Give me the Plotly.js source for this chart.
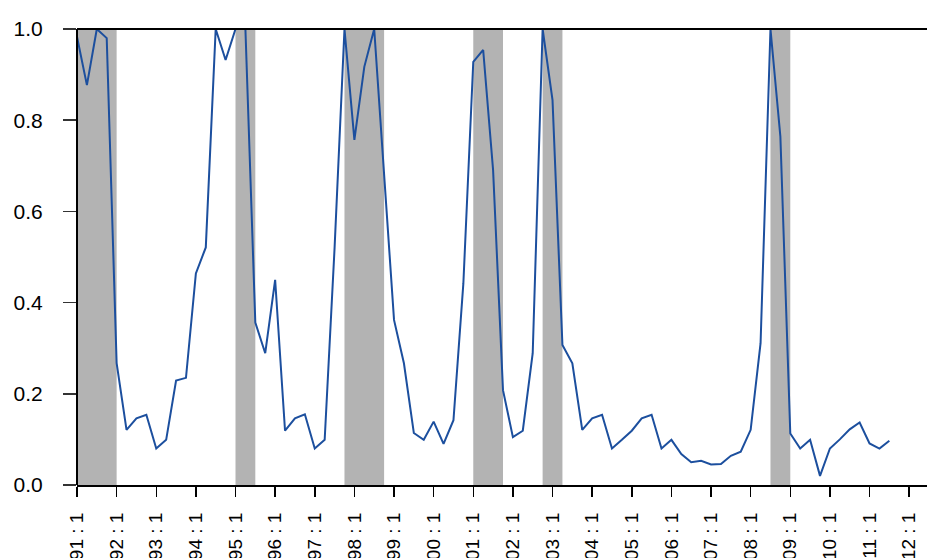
<!DOCTYPE html>
<html>
<head>
<meta charset="utf-8">
<script src="https://cdn.plot.ly/plotly-3.0.1.min.js"></script>
<style>
  html, body { margin: 0; padding: 0; background: #ffffff; }
  #chart { width: 927px; height: 558px; }
</style>
</head>
<body>
<div id="chart"></div>
<script>
// Quarterly series starting 1991:1
var startYear = 1991;
var probValues = [
  0.983, 0.877, 1.000, 0.980, 0.267, 0.121, 0.146, 0.154, 0.080, 0.099,
  0.229, 0.235, 0.464, 0.521, 1.000, 0.932, 1.000, 1.000, 0.356, 0.289,
  0.450, 0.119, 0.146, 0.155, 0.080, 0.099, 0.520, 1.000, 0.757, 0.917,
  1.000, 0.680, 0.362, 0.267, 0.114, 0.099, 0.139, 0.090, 0.142, 0.442,
  0.928, 0.954, 0.691, 0.208, 0.105, 0.119, 0.289, 1.000, 0.844, 0.307,
  0.267, 0.121, 0.146, 0.154, 0.080, 0.099, 0.119, 0.146, 0.154, 0.080,
  0.099, 0.068, 0.050, 0.053, 0.045, 0.046, 0.064, 0.073, 0.121, 0.311,
  1.000, 0.764, 0.113, 0.080, 0.099, 0.020, 0.080, 0.100, 0.122, 0.137,
  0.091, 0.080, 0.097
];
// Shaded periods (decimal year start / end)
var shadeStart = [1991.00, 1995.00, 1997.75, 2001.00, 2002.75, 2008.50];
var shadeEnd   = [1992.00, 1995.50, 1998.75, 2001.75, 2003.25, 2009.00];
// Axis ticks
var xTickYears = [1991,1992,1993,1994,1995,1996,1997,1998,1999,2000,2001,2002,2003,2004,2005,2006,2007,2008,2009,2010,2011,2012];
var xTickText = ["1991 : 1","1992 : 1","1993 : 1","1994 : 1","1995 : 1","1996 : 1","1997 : 1","1998 : 1","1999 : 1","2000 : 1","2001 : 1","2002 : 1","2003 : 1","2004 : 1","2005 : 1","2006 : 1","2007 : 1","2008 : 1","2009 : 1","2010 : 1","2011 : 1","2012 : 1"];
var yTickVals = [0, 0.2, 0.4, 0.6, 0.8, 1.0];
var yTickText = ["0.0", "0.2", "0.4", "0.6", "0.8", "1.0"];

var xDates = probValues.map(function (v, i) { return startYear + i / 4; });

var shapes = [];
for (var k = 0; k < shadeStart.length; k++) {
  shapes.push({
    type: 'rect', xref: 'x', yref: 'y', layer: 'below',
    x0: shadeStart[k], x1: shadeEnd[k], y0: 0, y1: 1,
    fillcolor: '#b3b3b3', line: { width: 0 }
  });
}
// horizontal reference line at 1.0
shapes.push({
  type: 'line', xref: 'paper', yref: 'y', layer: 'above',
  x0: 0, x1: 1, y0: 1, y1: 1,
  line: { color: '#000000', width: 2 }
});
// left axis line spanning tick range only
shapes.push({
  type: 'line', xref: 'paper', yref: 'y', layer: 'above',
  x0: 0, x1: 0, y0: 0, y1: 1,
  line: { color: '#000000', width: 2 }
});

var trace = {
  x: xDates, y: probValues, type: 'scatter', mode: 'lines',
  line: { color: '#1c4f9e', width: 2 },
  hoverinfo: 'skip', showlegend: false
};

var layout = {
  width: 927, height: 558,
  margin: { l: 77, r: 0, t: 5, b: 73, pad: 0 },
  paper_bgcolor: '#ffffff', plot_bgcolor: '#ffffff',
  font: { family: 'Liberation Sans, Arial, sans-serif', color: '#000000' },
  showlegend: false,
  xaxis: {
    range: [1991, 2012.45],
    tickmode: 'array', tickvals: xTickYears, ticktext: xTickText,
    tickangle: -90,
    ticks: 'outside', ticklen: 10, tickwidth: 1.5, tickcolor: '#000000',
    ticklabelstandoff: 8,
    tickfont: { size: 19, color: '#000000' },
    showgrid: false, zeroline: false,
    showline: true, linecolor: '#000000', linewidth: 2
  },
  yaxis: {
    range: [0, 1.0526],
    tickmode: 'array', tickvals: yTickVals, ticktext: yTickText,
    ticks: 'outside', ticklen: 13, tickwidth: 1.5, tickcolor: '#333333',
    ticklabelstandoff: 16,
    tickfont: { size: 21, color: '#000000' },
    showgrid: false, zeroline: false, showline: false
  },
  shapes: shapes
};

Plotly.newPlot('chart', [trace], layout, { staticPlot: true, displayModeBar: false });
</script>
</body>
</html>
